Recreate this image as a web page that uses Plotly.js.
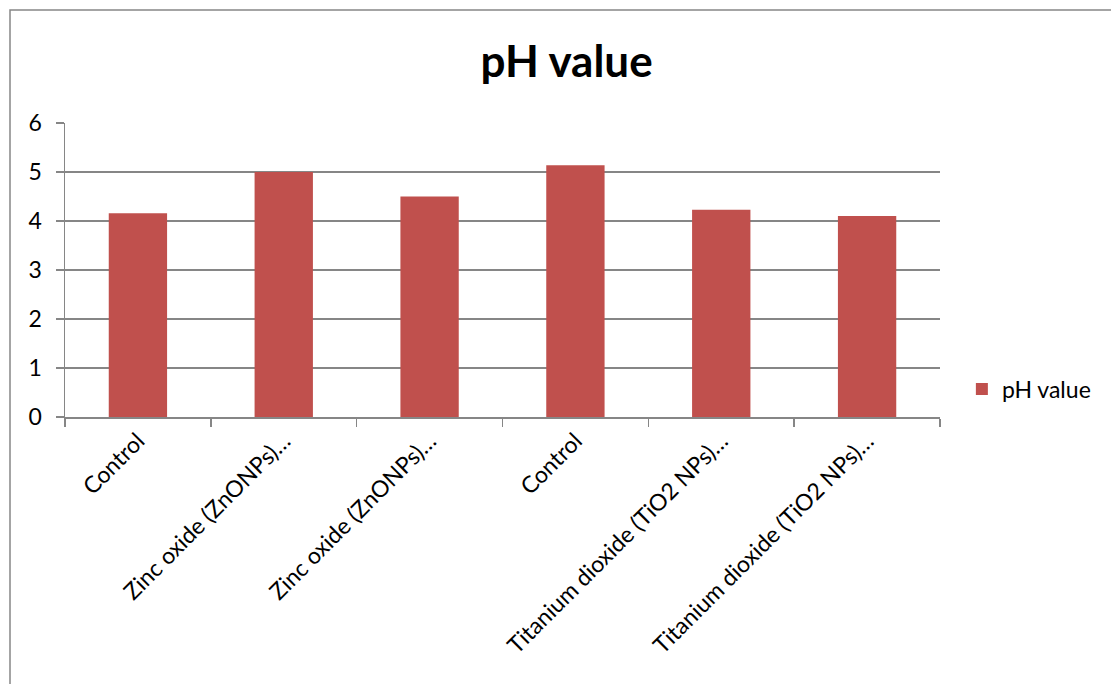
<!DOCTYPE html>
<html>
<head>
<meta charset="utf-8">
<script src="https://cdn.plot.ly/plotly-3.0.1.min.js"></script>
<style>html,body{margin:0;padding:0;background:#fff;}#chart{width:1111px;height:684px;}</style>
</head>
<body>
<div id="chart"></div>
<script>
const categoryIds = ["c1", "c2", "c3", "c4", "c5", "c6"];
const tickLabels = ["Control", "Zinc oxide (ZnONPs)…", "Zinc oxide (ZnONPs)…", "Control", "Titanium dioxide (TiO2 NPs)…", "Titanium dioxide (TiO2 NPs)…"];
const phValues = [4.16, 5.0, 4.5, 5.14, 4.23, 4.1];
const seriesName = "pH value";
const chartTitle = "pH value";

const font = "Lato, 'Open Sans', sans-serif";
const trace = {
  type: "bar",
  x: categoryIds,
  y: phValues,
  name: seriesName,
  marker: {color: "#C0504D", line: {color: "#C0504D", width: 0}},
  showlegend: true
};
const layout = {
  width: 1111, height: 684,
  margin: {l: 65, r: 171, t: 123, b: 267, pad: 0},
  paper_bgcolor: "#fff", plot_bgcolor: "#fff",
  title: {text: "<b>" + chartTitle + "</b>", font: {family: font, size: 44, color: "#000"}, x: 0.51, xanchor: "center", y: 0.91, yanchor: "middle"},
  bargap: 0.6,
  xaxis: {
    type: "category",
    tickmode: "array", tickvals: categoryIds, ticktext: tickLabels,
    tickson: "boundaries",
    ticks: "outside", ticklen: 8, tickcolor: "#868686", tickwidth: 1.5,
    showline: true, linecolor: "#868686", linewidth: 1.5,
    tickangle: -45,
    tickfont: {family: font, size: 23, color: "#000"},
    showgrid: false, fixedrange: true
  },
  yaxis: {
    range: [0, 6], dtick: 1, tick0: 0,
    ticks: "outside", ticklen: 8, tickcolor: "#868686", tickwidth: 1.5,
    showline: true, linecolor: "#868686", linewidth: 1.5,
    showgrid: true, gridcolor: "#868686", gridwidth: 1.5,
    zeroline: false,
    tickfont: {family: font, size: 23, color: "#000"},
    ticklabelstandoff: 9
  },
  legend: {
    x: 1.025, xanchor: "left", xref: "paper", y: 0.095, yanchor: "middle",
    font: {family: font, size: 23, color: "#000"},
    itemwidth: 30, bgcolor: "rgba(0,0,0,0)"
  },
  shapes: [{
    type: "rect", xref: "paper", yref: "paper",
    x0: -55/875, x1: 1.5, y0: -2, y1: 1 + 113/294,
    line: {color: "#868686", width: 1.5}, fillcolor: "rgba(0,0,0,0)", layer: "below"
  }]
};
Plotly.newPlot("chart", [trace], layout, {displayModeBar: false, staticPlot: true});
</script>
</body>
</html>
